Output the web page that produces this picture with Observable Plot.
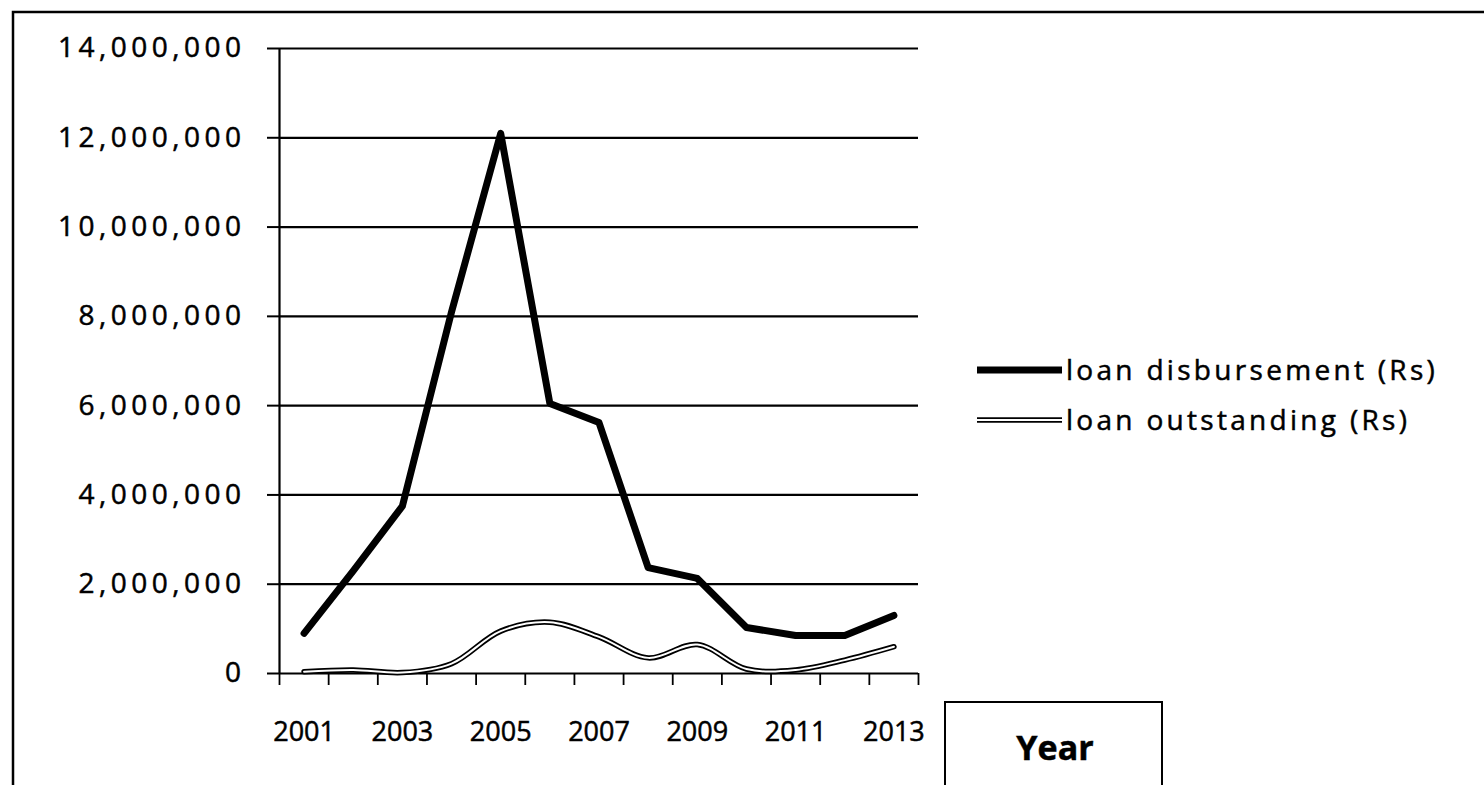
<!DOCTYPE html>
<html>
<head>
<meta charset="utf-8">
<script src="https://cdn.jsdelivr.net/npm/d3@7"></script>
<script src="https://cdn.jsdelivr.net/npm/@observablehq/plot@0.6"></script>
<style>
  html, body { margin: 0; padding: 0; background: #fff; }
  #chart { position: relative; width: 1484px; height: 785px; overflow: hidden; }
  #chart svg text { stroke: #000; stroke-width: 0.5px; paint-order: stroke; }
</style>
</head>
<body>
<div id="chart"></div>
<script>
// ---- data ----
const years = [2001, 2002, 2003, 2004, 2005, 2006, 2007, 2008, 2009, 2010, 2011, 2012, 2013];
const disbursement = [900000, 2300000, 3750000, 8100000, 12100000, 6050000, 5620000, 2370000, 2130000, 1030000, 850000, 850000, 1300000];
const outstanding = [40000, 80000, 20000, 220000, 950000, 1150000, 820000, 350000, 650000, 100000, 80000, 300000, 600000];
const yTicks = [0, 2000000, 4000000, 6000000, 8000000, 10000000, 12000000, 14000000];
const xLabelYears = [2001, 2003, 2005, 2007, 2009, 2011, 2013];
const seriesNames = ["loan disbursement (Rs)", "loan outstanding (Rs)"];
const axisTitle = "Year";

const rows = years.map((year, i) => ({year, disbursement: disbursement[i], outstanding: outstanding[i]}));
const boundaries = d3.range(years.length + 1).map(i => years[0] - 0.5 + i);

const W = 1484, H = 785;
const FONT = "'Open Sans', 'DejaVu Sans', sans-serif";

const plot = Plot.plot({
  width: W,
  height: H,
  marginLeft: 279,
  marginRight: W - 918,
  marginTop: 48,
  marginBottom: H - 673,
  style: {fontFamily: FONT, background: "transparent", color: "#000", overflow: "visible"},
  x: {type: "linear", domain: [boundaries[0], boundaries[boundaries.length - 1]]},
  y: {domain: [0, 14000000]},
  marks: [
    Plot.gridY(yTicks, {stroke: "#000", strokeOpacity: 1, strokeWidth: 2.2}),
    Plot.axisY(yTicks, {tickFormat: d3.format(","), tickSize: 12, tickPadding: 22, fontSize: 28, stroke: "#000", strokeWidth: 2, label: null}),
    Plot.ruleX([boundaries[0]], {y1: 0, y2: 14000000, stroke: "#000", strokeWidth: 2.2}),
    Plot.axisX(boundaries, {tickFormat: () => "", tickSize: 12, stroke: "#000", strokeWidth: 1.8, label: null}),
    Plot.axisX(xLabelYears, {tickSize: 0, tickPadding: 48, tickFormat: d => String(d), fontSize: 27, label: null}),
    Plot.lineY(rows, {x: "year", y: "outstanding", curve: "catmull-rom", stroke: "#000", strokeWidth: 5.5}),
    Plot.lineY(rows, {x: "year", y: "outstanding", curve: "catmull-rom", stroke: "#fff", strokeWidth: 2}),
    Plot.lineY(rows, {x: "year", y: "disbursement", stroke: "#000", strokeWidth: 7, strokeLinejoin: "round", strokeLinecap: "round"})
  ]
});

document.getElementById("chart").appendChild(plot);

const svg = d3.select(plot);
svg.selectAll('g[aria-label="y-axis tick label"] text').style("letter-spacing", "4.5px");

// outer border of the scanned chart
svg.append("path")
  .attr("d", `M13,${H} V12 H${W}`)
  .attr("fill", "none").attr("stroke", "#000").attr("stroke-width", 2.5);

// legend
const lg = svg.append("g").attr("font-family", FONT).attr("font-size", 28).attr("fill", "#000");
const rowY = [370, 420];
lg.append("line").attr("x1", 977).attr("x2", 1062).attr("y1", rowY[0]).attr("y2", rowY[0])
  .attr("stroke", "#000").attr("stroke-width", 7);
lg.append("line").attr("x1", 977).attr("x2", 1062).attr("y1", rowY[1]).attr("y2", rowY[1])
  .attr("stroke", "#000").attr("stroke-width", 5.5);
lg.append("line").attr("x1", 977).attr("x2", 1062).attr("y1", rowY[1]).attr("y2", rowY[1])
  .attr("stroke", "#fff").attr("stroke-width", 2);
seriesNames.forEach((name, i) => {
  lg.append("text").attr("x", 1066).attr("y", rowY[i]).attr("dy", "0.35em")
    .attr("text-anchor", "start")
    .style("letter-spacing", "3.3px").text(name);
});

// axis title box
svg.append("rect").attr("x", 945).attr("y", 702).attr("width", 217).attr("height", 100)
  .attr("fill", "#fff").attr("stroke", "#000").attr("stroke-width", 2);
svg.append("text").attr("x", 1055).attr("y", 748).attr("dy", "0.35em")
  .attr("text-anchor", "middle").attr("font-family", FONT).attr("font-weight", "bold")
  .attr("font-size", 34).text(axisTitle);
</script>
</body>
</html>
